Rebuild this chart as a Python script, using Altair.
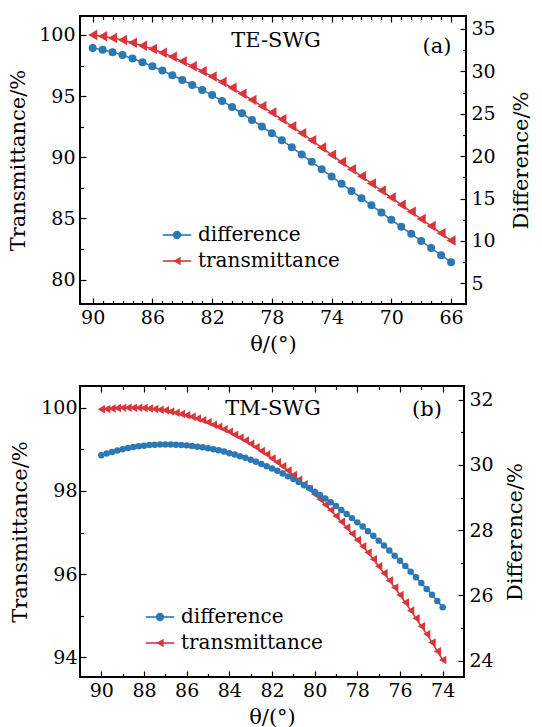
import altair as alt
import pandas as pd

# ---------------- data ----------------
theta_a = [90, 89.333, 88.667, 88, 87.333, 86.667, 86, 85.333, 84.667, 84, 83.333, 82.667,
           82, 81.333, 80.667, 80, 79.333, 78.667, 78, 77.333, 76.667, 76, 75.333, 74.667,
           74, 73.333, 72.667, 72, 71.333, 70.667, 70, 69.333, 68.667, 68, 67.333, 66.667, 66]
trans_a = [100.00, 99.90, 99.76, 99.58, 99.37, 99.12, 98.85,
           98.55, 98.21, 97.84, 97.45, 97.03, 96.60,
           96.15, 95.68, 95.19, 94.69, 94.18, 93.65,
           93.10, 92.54, 91.97, 91.39, 90.80, 90.20,
           89.61, 89.02, 88.44, 87.86, 87.28, 86.70,
           86.12, 85.54, 84.95, 84.37, 83.78, 83.20]
diff_a = [32.76, 32.54, 32.26, 31.92, 31.52, 31.08, 30.60,
          30.09, 29.55, 28.98, 28.40, 27.81, 27.20,
          26.52, 25.80, 25.05, 24.28, 23.50, 22.70,
          21.88, 21.04, 20.19, 19.33, 18.47, 17.60,
          16.75, 15.90, 15.05, 14.20, 13.35, 12.50,
          11.67, 10.84, 10.00, 9.17, 8.33, 7.50]

theta_b = [90, 89.75, 89.5, 89.25, 89, 88.75, 88.5, 88.25, 88, 87.75, 87.5, 87.25, 87,
           86.75, 86.5, 86.25, 86, 85.75, 85.5, 85.25, 85, 84.75, 84.5, 84.25, 84,
           83.75, 83.5, 83.25, 83, 82.75, 82.5, 82.25, 82, 81.75, 81.5, 81.25, 81,
           80.75, 80.5, 80.25, 80, 79.75, 79.5, 79.25, 79, 78.75, 78.5, 78.25, 78,
           77.75, 77.5, 77.25, 77, 76.75, 76.5, 76.25, 76, 75.75, 75.5, 75.25, 75,
           74.75, 74.5, 74.25, 74]
trans_b = [99.96, 99.97, 99.98, 99.99, 100.00, 100.00, 100.00,
           100.00, 99.99, 99.98, 99.97, 99.95, 99.94, 99.91, 99.88, 99.85, 99.82,
           99.78, 99.74, 99.70, 99.65, 99.59, 99.54, 99.48, 99.42, 99.35, 99.28,
           99.21, 99.13, 99.05, 98.96, 98.88, 98.78, 98.69, 98.59, 98.49, 98.38,
           98.27, 98.16, 98.04, 97.92, 97.80, 97.67, 97.54, 97.40, 97.26, 97.12,
           96.97, 96.82, 96.67, 96.52, 96.36, 96.19, 96.02, 95.85, 95.68, 95.50,
           95.32, 95.13, 94.94, 94.75, 94.56, 94.36, 94.15, 93.94]
diff_b = [30.30, 30.35, 30.40, 30.44, 30.48, 30.52, 30.55, 30.57, 30.59, 30.61, 30.62, 30.63, 30.63,
          30.63, 30.62, 30.61, 30.60, 30.58, 30.56, 30.54, 30.51, 30.48, 30.45, 30.41, 30.36,
          30.32, 30.27, 30.22, 30.16, 30.10, 30.03, 29.96, 29.89, 29.82, 29.74, 29.65, 29.57,
          29.48, 29.38, 29.29, 29.18, 29.08, 28.97, 28.86, 28.74, 28.62, 28.50, 28.37, 28.24,
          28.11, 27.97, 27.83, 27.68, 27.53, 27.38, 27.22, 27.06, 26.90, 26.73, 26.56, 26.38,
          26.20, 26.02, 25.83, 25.64]

series_names = ["difference", "transmittance"]
panel_titles = ["TE-SWG", "TM-SWG"]
panel_tags = ["(a)", "(b)"]
x_title = "θ/(°)"
left_title = "Transmittance/%"
right_title = "Difference/%"

# tick values
xa_major = [90, 86, 82, 78, 74, 70, 66]
xa_minor = [89.333, 88.667, 88, 87.333, 86.667, 85.333, 84.667, 84, 83.333, 82.667,
            81.333, 80.667, 80, 79.333, 78.667, 77.333, 76.667, 76, 75.333, 74.667,
            73.333, 72.667, 72, 71.333, 70.667, 69.333, 68.667, 68, 67.333, 66.667]
la_major = [80, 85, 90, 95, 100]
la_minor = [82.5, 87.5, 92.5, 97.5]
ra_major = [5, 10, 15, 20, 25, 30, 35]
ra_minor = [7.5, 12.5, 17.5, 22.5, 27.5, 32.5]

xb_major = [90, 88, 86, 84, 82, 80, 78, 76, 74]
xb_minor = [89, 87, 85, 83, 81, 79, 77, 75]
lb_major = [94, 96, 98, 100]
lb_minor = [95, 97, 99]
rb_major = [24, 26, 28, 30, 32]
rb_minor = [25, 27, 29, 31]

# ---------------- style ----------------
BLUE = "#2b78b4"
RED = "#d8363b"
FONT = "DejaVu Serif"
TMAJ = 6
TMIN = 3.5


def axis(orient, values, tick, labels=False, title=None, title_pad=0, title_angle=None,
         title_baseline=None, lab_pad=5):
    kw = dict(orient=orient, values=values, tickSize=tick, offset=-tick, domain=False, grid=False,
              ticks=True, tickColor="black", tickWidth=1.2, labels=labels)
    if labels:
        kw.update(labelFont=FONT, labelFontSize=19, labelColor="black", labelPadding=lab_pad,
                  labelFlush=False, labelOverlap=False)
    if title is not None:
        kw.update(title=title, titleFont=FONT, titleFontSize=21, titleFontWeight="normal",
                  titleColor="black", titlePadding=title_pad)
        if title_angle is not None:
            kw["titleAngle"] = title_angle
        if title_baseline is not None:
            kw["titleBaseline"] = title_baseline
    else:
        kw["title"] = None
    return alt.Axis(**kw)


def frame(theta, vals, name):
    return pd.DataFrame({"theta": theta, "value": vals,
                         "s_line": name, "s_pt": name + "_pt"})


def panel(theta, trans, diff, xdom, ldom, rdom, xmaj, xmin, lmaj, lmin, rmaj, rmin,
          w, h, title, tag, leg_xy, title_xy, tag_xy, circ_size, tri_size,
          ltitle_pad, llab_pad, rtitle_pad):
    tdf = frame(theta, trans, series_names[1])
    ddf = frame(theta, diff, series_names[0])
    xs = alt.Scale(domain=xdom, nice=False, zero=False)
    ls = alt.Scale(domain=ldom, nice=False, zero=False)
    rs = alt.Scale(domain=rdom, nice=False, zero=False)

    sym = 70
    line_leg = alt.Legend(orient="none", legendX=leg_xy[0], legendY=leg_xy[1], title=None,
                          symbolType="M-3.4,0H3.4", symbolSize=sym, symbolStrokeWidth=1.6,
                          labelFont=FONT, labelFontSize=20, labelColor="black", labelOffset=11,
                          rowPadding=6, padding=0)
    pt_leg = alt.Legend(orient="none", legendX=leg_xy[0], legendY=leg_xy[1], title=None,
                        symbolSize=sym, symbolStrokeWidth=0, labelOpacity=0,
                        labelFont=FONT, labelFontSize=20, labelOffset=11,
                        rowPadding=6, padding=0)
    stroke_sc = alt.Scale(domain=series_names, range=[BLUE, RED])
    color_sc = alt.Scale(domain=[s + "_pt" for s in series_names], range=[BLUE, RED])
    shape_sc = alt.Scale(domain=[s + "_pt" for s in series_names], range=["circle", "triangle-left"])

    stroke_enc = alt.Stroke("s_line:N", scale=stroke_sc, legend=line_leg)
    color_enc = alt.Color("s_pt:N", scale=color_sc, legend=pt_leg)
    shape_enc = alt.Shape("s_pt:N", scale=shape_sc, legend=pt_leg)

    t_line = alt.Chart(tdf).mark_line(strokeWidth=1.5).encode(
        x=alt.X("theta:Q", scale=xs, axis=axis("bottom", xmaj, TMAJ, labels=True, title=x_title,
                                               title_pad=6, lab_pad=4)),
        y=alt.Y("value:Q", scale=ls, axis=axis("left", lmaj, TMAJ, labels=True, title=left_title,
                                               title_pad=ltitle_pad, lab_pad=llab_pad)),
        stroke=stroke_enc)
    t_pts = alt.Chart(tdf).mark_point(filled=True, size=tri_size, opacity=1).encode(
        x=alt.X("theta:Q", scale=xs, axis=None),
        y=alt.Y("value:Q", scale=ls, axis=None),
        color=color_enc, shape=shape_enc)
    d_line = alt.Chart(ddf).mark_line(strokeWidth=1.5).encode(
        x=alt.X("theta:Q", scale=xs, axis=axis("top", xmaj, TMAJ)),
        y=alt.Y("value:Q", scale=rs, axis=axis("right", rmaj, TMAJ, labels=True, title=right_title,
                                               title_pad=rtitle_pad, title_angle=270,
                                               title_baseline="top", lab_pad=5)),
        stroke=stroke_enc)
    d_pts = alt.Chart(ddf).mark_point(filled=True, size=circ_size, opacity=1).encode(
        x=alt.X("theta:Q", scale=xs, axis=None),
        y=alt.Y("value:Q", scale=rs, axis=None),
        color=color_enc, shape=shape_enc)
    minor1 = alt.Chart(tdf).mark_point(opacity=0).encode(
        x=alt.X("theta:Q", scale=xs, axis=axis("bottom", xmin, TMIN)),
        y=alt.Y("value:Q", scale=ls, axis=axis("left", lmin, TMIN)))
    minor2 = alt.Chart(ddf).mark_point(opacity=0).encode(
        x=alt.X("theta:Q", scale=xs, axis=axis("top", xmin, TMIN)),
        y=alt.Y("value:Q", scale=rs, axis=axis("right", rmin, TMIN)))
    txt1 = alt.Chart(pd.DataFrame({"label": [title]})).mark_text(
        font=FONT, fontSize=21, color="black", align="center", baseline="middle").encode(
        x=alt.value(title_xy[0]), y=alt.value(title_xy[1]), text="label:N")
    txt2 = alt.Chart(pd.DataFrame({"label": [tag]})).mark_text(
        font=FONT, fontSize=21, color="black", align="center", baseline="middle").encode(
        x=alt.value(tag_xy[0]), y=alt.value(tag_xy[1]), text="label:N")

    return alt.layer(minor1, minor2, t_line, d_line, t_pts, d_pts, txt1, txt2).resolve_scale(
        x="independent", y="independent").resolve_axis(
        x="independent", y="independent").properties(width=w, height=h)


pa = panel(theta_a, trans_a, diff_a, [90.85, 65.0], [78.0, 101.55], [2.57, 36.53],
           xa_major, xa_minor, la_major, la_minor, ra_major, ra_minor,
           386, 288, panel_titles[0], panel_tags[0], (87, 209), (196, 25), (357, 31), 64, 110,
           10, 5, 15)
pb = panel(theta_b, trans_b, diff_b, [91.0, 73.0], [93.53, 100.52], [23.5, 32.42],
           xb_major, xb_minor, lb_major, lb_minor, rb_major, rb_minor,
           384, 291, panel_titles[1], panel_tags[1], (70, 221), (193, 23), (347, 24), 42, 72,
           10, 3, 11)

chart = alt.vconcat(pa, pb, spacing=29).resolve_scale(
    color="independent", shape="independent", stroke="independent").resolve_legend(
    color="independent", shape="independent", stroke="independent").configure_view(
    stroke="black", strokeWidth=2).properties(
    background="white", padding={"left": 6, "top": 14, "right": 0, "bottom": 0})

chart.save("out.html", embed_options={"renderer": "svg", "actions": False})
